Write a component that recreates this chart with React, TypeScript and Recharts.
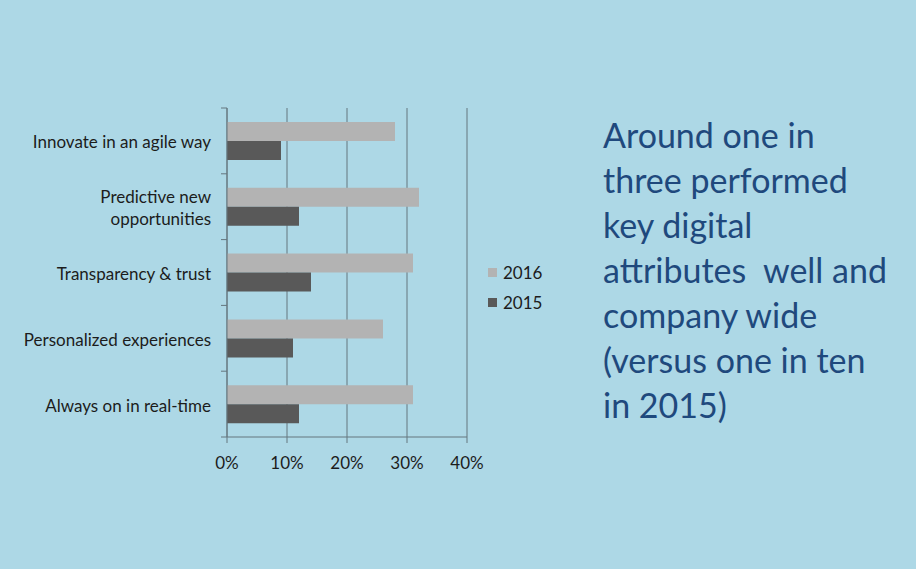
import { BarChart, Bar, XAxis, YAxis, CartesianGrid, Legend } from "recharts";

const categories = [
  "Innovate in an agile way",
  "Predictive new\nopportunities",
  "Transparency & trust",
  "Personalized experiences",
  "Always on in real-time",
];
const values2016 = [28, 32, 31, 26, 31];
const values2015 = [9, 12, 14, 11, 12];
const xTicks = [0, 10, 20, 30, 40];

const data = categories.map((c, i) => ({ name: c, y2016: values2016[i], y2015: values2015[i] }));

const FONT = "Lato, 'Open Sans', sans-serif";
const AXIS = "#64767e";
const PLOT_LEFT = 227;
const PLOT_TOP = 108;
const PLOT_BOTTOM = 437;
const BAND = (PLOT_BOTTOM - PLOT_TOP) / categories.length;

function CategoryTick(props: any) {
  const { y, payload, index } = props;
  const lines = String(payload.value).split("\n");
  const lh = 22;
  const start = y + 1 - ((lines.length - 1) * lh) / 2;
  return (
    <g>
      <line x1={PLOT_LEFT - 6} x2={PLOT_LEFT} y1={y - BAND / 2} y2={y - BAND / 2} stroke={AXIS} />
      {index === categories.length - 1 && (
        <line x1={PLOT_LEFT - 6} x2={PLOT_LEFT} y1={y + BAND / 2} y2={y + BAND / 2} stroke={AXIS} />
      )}
      <text x={211} y={start} textAnchor="end" fontSize={17} fill="#1c1c1c" fontFamily={FONT}>
        {lines.map((l, i) => (
          <tspan key={i} x={211} y={start + i * lh} dominantBaseline="central">
            {l}
          </tspan>
        ))}
      </text>
    </g>
  );
}

function LegendBox() {
  const items = [
    { label: "2016", color: "#b3b3b3" },
    { label: "2015", color: "#595959" },
  ];
  return (
    <div style={{ fontFamily: FONT, fontSize: 17, color: "#1c1c1c" }}>
      {items.map((it) => (
        <div key={it.label} style={{ display: "flex", alignItems: "center", height: 30 }}>
          <span style={{ display: "inline-block", width: 9, height: 9, background: it.color, marginRight: 6 }} />
          {it.label}
        </div>
      ))}
    </div>
  );
}

export default function App() {
  return (
    <div
      style={{
        position: "fixed",
        left: 0,
        top: 0,
        width: 916,
        height: 569,
        background: "#add8e6",
        overflow: "hidden",
      }}
    >
      <BarChart
        width={916}
        height={569}
        data={data}
        layout="vertical"
        margin={{ top: PLOT_TOP, right: 916 - 467, bottom: 569 - PLOT_BOTTOM - 36, left: 0 }}
        barGap={0}
        barSize={19}
      >
        <CartesianGrid horizontal={false} stroke={AXIS} strokeWidth={1} />
        <XAxis
          type="number"
          domain={[0, 40]}
          ticks={xTicks}
          tickFormatter={(v) => `${v}%`}
          height={36}
          axisLine={{ stroke: AXIS }}
          tickLine={{ stroke: AXIS }}
          tickSize={6}
          tickMargin={14}
          tick={{ fontSize: 17, fill: "#1c1c1c", fontFamily: FONT }}
          interval={0}
        />
        <YAxis
          type="category"
          dataKey="name"
          width={PLOT_LEFT}
          axisLine={{ stroke: AXIS }}
          tickLine={false}
          tick={<CategoryTick />}
          interval={0}
        />
        <Legend
          layout="vertical"
          align="center"
          verticalAlign="middle"
          content={<LegendBox />}
          wrapperStyle={{ position: "absolute", left: 488, top: 257, width: 80 }}
        />
        <Bar dataKey="y2016" name="2016" fill="#b3b3b3" isAnimationActive={false} />
        <Bar dataKey="y2015" name="2015" fill="#595959" isAnimationActive={false} />
      </BarChart>
      <div
        style={{
          position: "absolute",
          left: 603,
          top: 112,
          fontFamily: FONT,
          fontSize: 34,
          lineHeight: "45px",
          color: "#1f497d",
          whiteSpace: "pre",
        }}
      >
        {"Around one in\nthree performed\nkey digital\nattributes  well and\ncompany wide\n(versus one in ten\nin 2015)"}
      </div>
    </div>
  );
}
